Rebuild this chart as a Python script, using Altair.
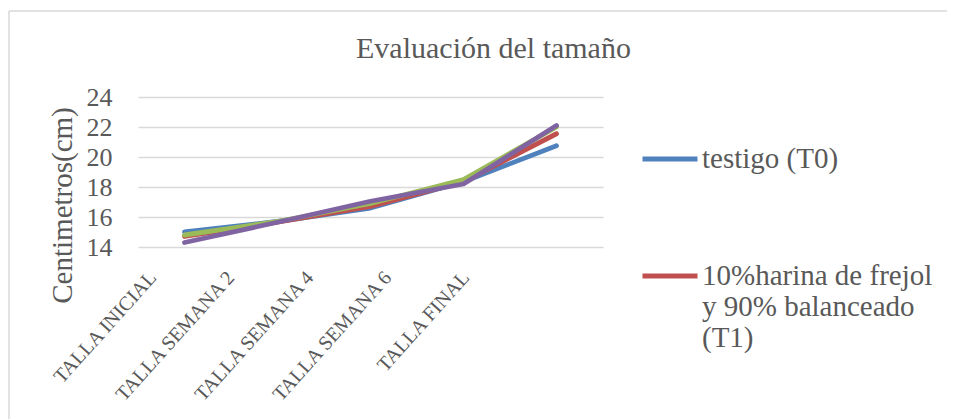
import altair as alt
import pandas as pd

categories = ["TALLA INICIAL", "TALLA SEMANA 2", "TALLA SEMANA 4", "TALLA SEMANA 6", "TALLA FINAL"]
series_names = ["testigo (T0)", "10%harina de frejol y 90% balanceado (T1)", "T2", "T3"]
t0 = [15.0, 15.7, 16.6, 18.35, 20.75]
t1 = [14.7, 15.65, 16.7, 18.35, 21.55]
t2 = [14.8, 15.7, 16.9, 18.5, 22.0]
t3 = [14.3, 15.65, 17.05, 18.2, 22.1]
colors = ["#4F81BD", "#C0504D", "#9BBB59", "#8064A2"]
y_ticks = [14, 16, 18, 20, 22, 24]

rows = []
for name, vals in zip(series_names, [t0, t1, t2, t3]):
    for c, v in zip(categories, vals):
        rows.append({"cat": c, "serie": name, "valor": v})
df = pd.DataFrame(rows)

FONT = "Liberation Serif"
GRAY = "#595959"

label_offsets = {
    "condition": [
        {"test": "datum.value == 'TALLA INICIAL'", "value": -32},
        {"test": "datum.value == 'TALLA SEMANA 2'", "value": -47},
        {"test": "datum.value == 'TALLA SEMANA 4'", "value": -61},
        {"test": "datum.value == 'TALLA SEMANA 6'", "value": -76},
    ],
    "value": -91,
}

lines = alt.Chart(df).mark_line(strokeWidth=4.8, strokeCap="round", strokeJoin="round").encode(
    x=alt.X("cat:N", sort=categories, title=None,
            axis=alt.Axis(labelAngle=312, labelAlign="right", labelBaseline="middle",
                          labelFontSize=20, labelColor=GRAY,
                          ticks=False, domain=False, grid=False, labelPadding=27,
                          labelOffset=label_offsets, labelLimit=300)),
    y=alt.Y("valor:Q", title="Centimetros(cm)",
            scale=alt.Scale(domain=[14, 24], nice=False, zero=False),
            axis=alt.Axis(values=y_ticks, labelFontSize=26, labelColor=GRAY,
                          ticks=False, domain=False, gridColor="#D9D9D9", gridWidth=1.5,
                          labelPadding=26, titleFontSize=29,
                          titleFontWeight="normal", titleColor=GRAY, titleAngle=270,
                          titleAlign="center", titleBaseline="alphabetic",
                          titleX=-67, titleY=108)),
    color=alt.Color("serie:N", sort=series_names,
                    scale=alt.Scale(domain=series_names, range=colors),
                    legend=alt.Legend(orient="none", legendX=502, legendY=32, title=None,
                                      values=series_names[:2], symbolType="stroke",
                                      symbolSize=3025, symbolStrokeWidth=5,
                                      labelFontSize=29, labelColor=GRAY,
                                      labelLimit=400, labelOffset=2, rowPadding=72,
                                      padding=0,
                                      labelExpr="datum.label == 'testigo (T0)' ? datum.label : ['\u00a010%harina de frejol', 'y 90% balanceado', '(T1)']")),
)

frame = pd.DataFrame({"a": [0]})
top_edge = alt.Chart(frame).mark_rule(stroke="#D9D9D9", strokeWidth=1.5).encode(
    x=alt.value(-129), x2=alt.value(900), y=alt.value(-86))
left_edge = alt.Chart(frame).mark_rule(stroke="#D9D9D9", strokeWidth=1.5).encode(
    x=alt.value(-129), y=alt.value(-86), y2=alt.value(400))

chart = alt.layer(top_edge, left_edge, lines).properties(
    width=465, height=150,
    title=alt.Title("Evaluación del tamaño", fontSize=30, fontWeight="normal",
                    color=GRAY, anchor="middle", dx=123, baseline="alphabetic", offset=0, dy=78),
    padding={"left": 130, "top": 89, "right": 344, "bottom": 172},
    autosize=alt.AutoSizeParams(type="none"),
).configure(font=FONT).configure_axis(
    labelFont=FONT, titleFont=FONT
).configure_legend(labelFont=FONT).configure_title(font=FONT).configure_view(stroke=None)

chart.save("out.html", embed_options={"renderer": "svg", "actions": False})
